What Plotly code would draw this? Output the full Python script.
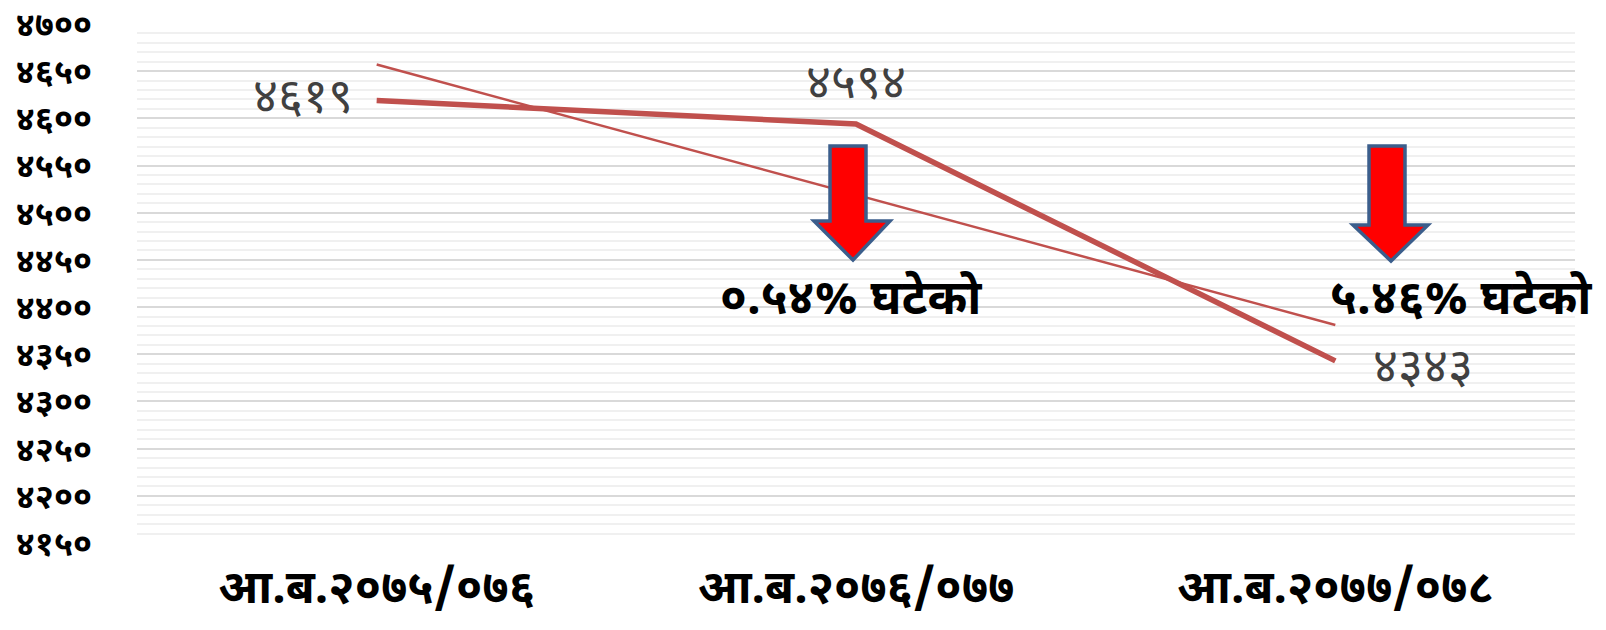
import plotly.graph_objects as go

categories = ["आ.ब.२०७५/०७६", "आ.ब.२०७६/०७७", "आ.ब.२०७७/०७८"]
values = [4619, 4594, 4343]
trend_values = [4657, 4519, 4381]
tick_vals = [4150, 4200, 4250, 4300, 4350, 4400, 4450, 4500, 4550, 4600, 4650, 4700]
tick_text = ["४१५०", "४२००", "४२५०", "४३००", "४३५०", "४४००", "४४५०", "४५००", "४५५०", "४६००", "४६५०", "४७००"]
change_labels = ["०.५४% घटेको", "५.४६% घटेको"]

DEV = str.maketrans("0123456789", "०१२३४५६७८९")
FONT = "Noto Sans Devanagari, Noto Sans, sans-serif"

W, H = 1606, 630
L, R, T, B = 137, 31, 24, 87
PW, PH = W - L - R, H - T - B

def px(x, y):
    return (x - L) / PW, 1 - (y - T) / PH

fig = go.Figure()
fig.add_trace(go.Scatter(x=categories, y=trend_values, mode="lines",
                         line=dict(color="#C0504D", width=2.5), hoverinfo="skip"))
fig.add_trace(go.Scatter(x=categories, y=values, mode="lines",
                         line=dict(color="#C0504D", width=5.5)))

# data labels
shifts = [(-74, 0), (0, 38), (88, -10)]
for c, v, (dx, dy) in zip(categories, values, shifts):
    fig.add_annotation(x=c, y=v, xref="x", yref="y", text=str(v).translate(DEV),
                       showarrow=False, xshift=dx, yshift=dy,
                       font=dict(family=FONT, size=48, color="#404040"))

# arrows
def arrow(x0, x1, ytop, yhead, hx0, hx1, tipx, tipy):
    pts = [(x0, ytop), (x1, ytop), (x1, yhead), (hx1, yhead), (tipx, tipy), (hx0, yhead), (x0, yhead)]
    p = [px(a, b) for a, b in pts]
    path = "M " + " L ".join(f"{a:.5f},{b:.5f}" for a, b in p) + " Z"
    fig.add_shape(type="path", path=path, xref="paper", yref="paper",
                  fillcolor="#FF0000", line=dict(color="#3B5E8C", width=3.5))

arrow(830, 866, 146, 221, 814, 890, 853, 260)
arrow(1369, 1405, 146, 225, 1353, 1428, 1391, 261)

for txt, rx in zip(change_labels, [984, 1594]):
    xx, yy = px(rx, 302)
    fig.add_annotation(x=xx, y=yy, xref="paper", yref="paper", text=f"<b>{txt}</b>",
                       xanchor="right", showarrow=False,
                       font=dict(family=FONT, size=48, color="#000000"))

fig.update_layout(
    width=W, height=H, showlegend=False,
    margin=dict(l=L, r=R, t=T, b=B, autoexpand=False),
    paper_bgcolor="white", plot_bgcolor="white",
    xaxis=dict(range=[-0.5, 2.5], showgrid=False, showline=False, zeroline=False, ticks="",
               tickfont=dict(family=FONT, size=47, color="#000000"),
               ticklabelstandoff=12, automargin=False),
    yaxis=dict(range=[4150, 4700], tickvals=tick_vals, ticktext=[f"<b>{t}</b>" for t in tick_text],
               showgrid=True, gridcolor="#D9D9D9", gridwidth=1.5,
               zeroline=False, showline=False, ticks="",
               tickfont=dict(family=FONT, size=34, color="#000000"),
               ticklabelstandoff=44, automargin=False,
               minor=dict(dtick=10, tick0=4150, showgrid=True, gridcolor="#F0F0F0", gridwidth=2)),
)
fig.update_xaxes(tickprefix="<b>", ticksuffix="</b>")

fig.write_html("out.html", config={"displayModeBar": False},
               post_script="document.body.style.margin='0';")
